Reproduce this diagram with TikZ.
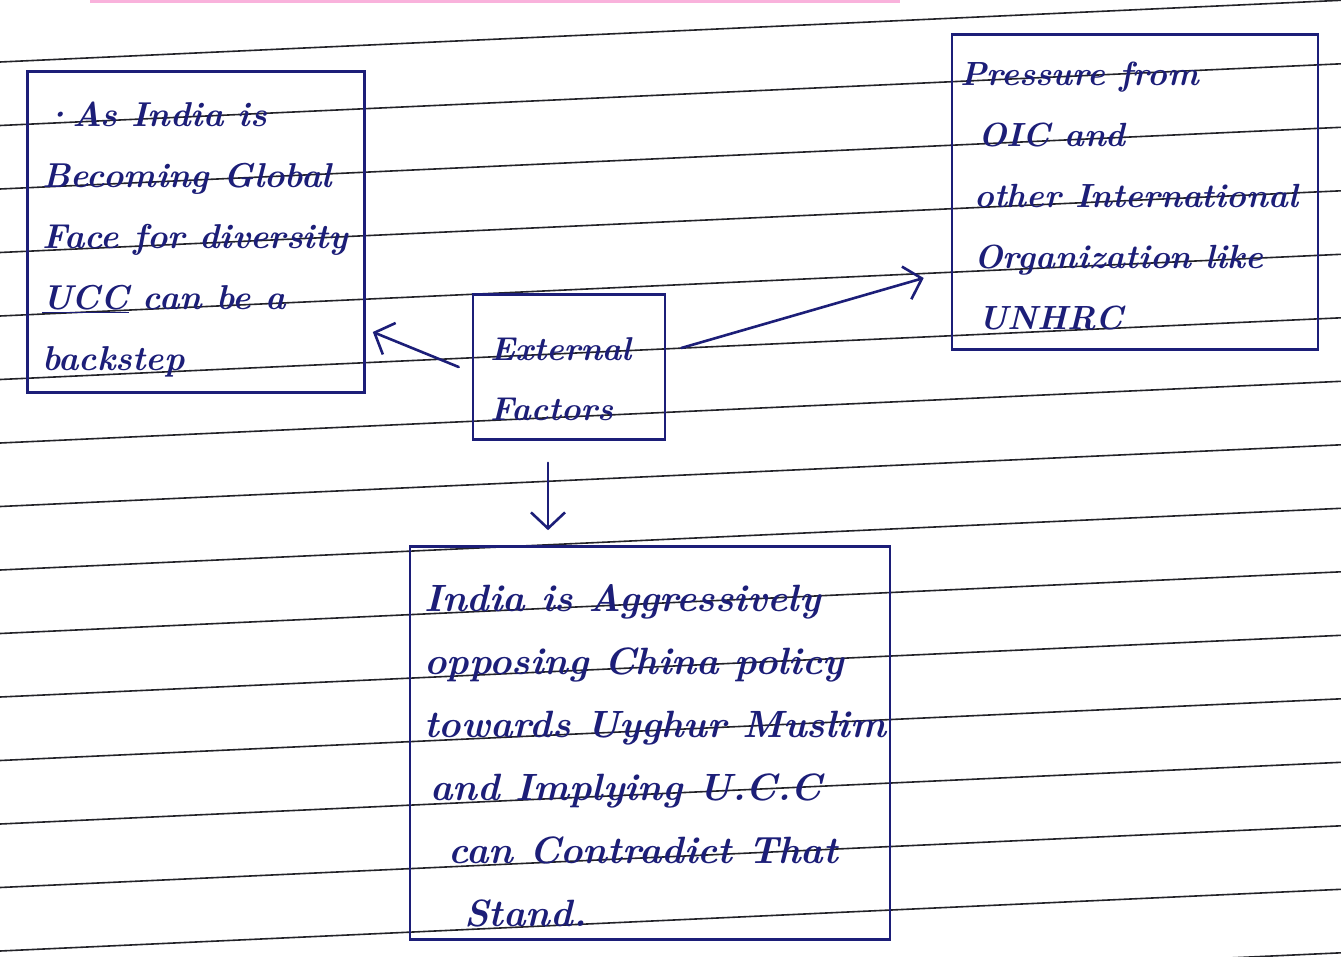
\documentclass[tikz,border=0pt]{standalone}
\usetikzlibrary{arrows.meta,calc}
\definecolor{ink}{RGB}{28,30,120}
\definecolor{rulecol}{RGB}{35,35,40}
\begin{document}
\begin{tikzpicture}[x=1pt,y=-1pt,
  box/.style={draw=ink, line width=2.6pt, inner sep=0pt},
  txt/.style={text=ink, align=left, inner sep=0pt, anchor=north west},
  arr/.style={draw=ink, line width=2.6pt, line cap=round,
    -{Straight Barb[length=16pt,width=34pt,line width=2.6pt]}},
  ruled/.style={draw=rulecol, line width=1.6pt}]
\useasboundingbox[fill=white] (0,0) rectangle (1341,956);
\draw[magenta!60, line width=4pt, opacity=0.5] (90,1) -- (900,1);
\foreach \k in {-1,...,15} { \draw[ruled] (0,{62+63.5*\k}) -- (1341,{62+63.5*\k-61.7}); }

\node[box, minimum width=337pt, minimum height=321pt] (left) at (196,232) {};
\node[box, minimum width=366pt, minimum height=315pt] (right) at (1135,192) {};
\node[box, minimum width=192pt, minimum height=145pt] (ext) at (569,367) {};
\node[box, minimum width=480pt, minimum height=393pt] (bot) at (650,743) {};

\node[txt, font=\fontsize{34.5}{61}\selectfont\bfseries\itshape] (lefttext) at (42,102)
  {\textperiodcentered As India is\\Becoming Global\\Face for diversity\\\underline{UCC} can be a\\backstep};
\node[txt, font=\fontsize{33.5}{61}\selectfont\bfseries\itshape] (righttext) at (960,62)
  {Pressure from\\\hspace*{18pt}OIC and\\\hspace*{14pt}other International\\\hspace*{14pt}Organization like\\\hspace*{18pt}UNHRC};
\node[txt, font=\fontsize{33}{60}\selectfont\bfseries\itshape] (exttext) at (490,337)
  {External\\Factors};
\node[txt, font=\fontsize{38}{63}\selectfont\bfseries\itshape] (bottext) at (424,584)
  {India is Aggressively\\opposing China policy\\towards Uyghur Muslim\\\hspace*{6pt}and Implying U.C.C\\\hspace*{24pt}can Contradict That\\\hspace*{40pt}Stand.};

\draw[arr] ([xshift=-13pt]ext.west) -- ([xshift=7pt,yshift=-100pt]left.east);
\draw[arr] ([xshift=15pt,yshift=19pt]ext.east) -- ([xshift=-27pt,yshift=-86pt]right.west);
\draw[arr] ([xshift=-21pt,yshift=-22pt]ext.south) -- ([xshift=-102pt,yshift=15pt]bot.north);
\end{tikzpicture}
\end{document}
